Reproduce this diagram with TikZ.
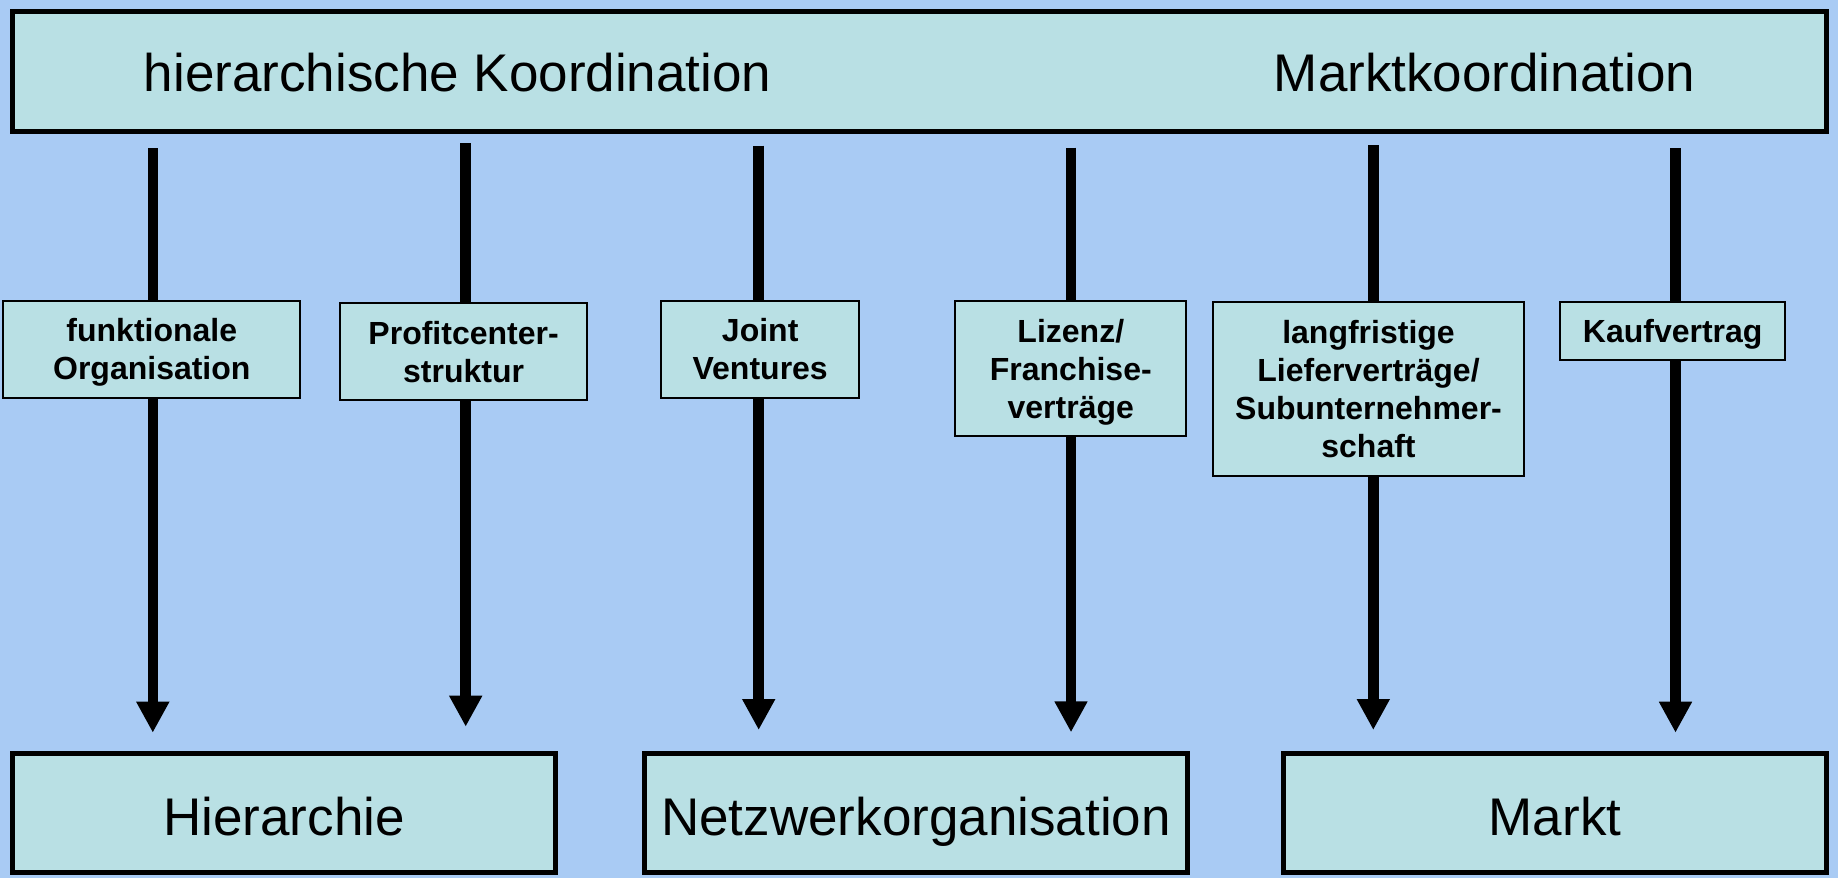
\documentclass[tikz,border=0pt]{standalone}
\usepackage{fontspec}
\setmainfont{Liberation Sans}
\usetikzlibrary{arrows.meta}
\definecolor{bgblue}{RGB}{169,203,244}
\definecolor{boxfill}{RGB}{185,224,228}
\begin{document}
\begin{tikzpicture}[x=1pt,y=-1pt,
  bigbox/.style={draw=black, line width=4.6pt, fill=boxfill, inner sep=0pt,
    font=\fontsize{53}{60}\selectfont, text height=44pt, text depth=0pt},
  smallbox/.style={draw=black, line width=2pt, fill=boxfill, inner sep=0pt,
    align=center, font=\fontsize{32}{38}\selectfont\bfseries, text depth=-4pt},
  biglabel/.style={font=\fontsize{53}{60}\selectfont, anchor=base, inner sep=0pt},
  flow/.style={line width=10.5pt, -{Triangle[width=31pt,length=31pt]}}]
% background
\fill[bgblue] (0,0) rectangle (1838,878);
\useasboundingbox (0,0) rectangle (1838,878);

% top band with the two poles
\node[bigbox, minimum width=1814.4pt, minimum height=120.4pt] (top) at (919.5,71.5) {};
\node[biglabel] (hk) at (457.7,91.5) {hierarchische Koordination};
\node[biglabel] (mk) at (1484.5,91.5) {Marktkoordination};

% start and end points of the vertical flows
\coordinate (s1) at (152.8,148.3);  \coordinate (e1) at (152.8,732.7);
\coordinate (s2) at (465.7,143);    \coordinate (e2) at (465.7,726.7);
\coordinate (s3) at (758.7,145.7);  \coordinate (e3) at (758.7,730);
\coordinate (s4) at (1071,147.7);   \coordinate (e4) at (1071,732.3);
\coordinate (s5) at (1373.3,145);   \coordinate (e5) at (1373.3,730);
\coordinate (s6) at (1675.5,148.3); \coordinate (e6) at (1675.5,732.7);

\foreach \i in {1,...,6} \draw[flow] (s\i) -- (e\i);

% intermediate forms
\node[smallbox, minimum width=297pt, minimum height=96.6pt] (f1) at (151.8,349.3)
  {funktionale\\Organisation};
\node[smallbox, minimum width=247.6pt, minimum height=96.5pt] (f2) at (463.6,351.7)
  {Profitcenter-\\struktur};
\node[smallbox, minimum width=198.4pt, minimum height=96.6pt] (f3) at (760.2,349.3)
  {Joint\\Ventures};
\node[smallbox, minimum width=231.2pt, minimum height=135pt] (f4) at (1070.8,368.5)
  {Lizenz/\\Franchise-\\verträge};
\node[smallbox, minimum width=311pt, minimum height=173.5pt] (f5) at (1368.5,388.75)
  {langfristige\\Lieferverträge/\\Subunternehmer-\\schaft};
\node[smallbox, minimum width=225.4pt, minimum height=57.5pt] (f6) at (1672.7,330.75)
  {Kaufvertrag};

% resulting coordination forms
\node[bigbox, minimum width=543.4pt, minimum height=119.4pt] (hier) at (284,813) {Hierarchie};
\node[bigbox, minimum width=543.4pt, minimum height=119.4pt] (netz) at (916,813) {Netzwerkorganisation};
\node[bigbox, minimum width=543.4pt, minimum height=119.4pt] (markt) at (1555,813) {Markt};
\end{tikzpicture}
\end{document}
